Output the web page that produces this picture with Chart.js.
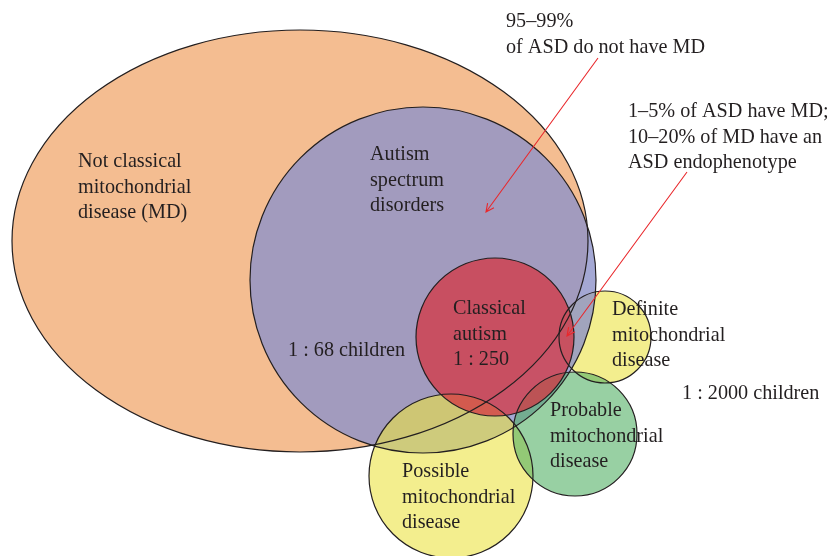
<!DOCTYPE html>
<html>
<head>
<meta charset="utf-8">
<script src="https://cdn.jsdelivr.net/npm/chart.js@4"></script>
<style>
  html, body { margin: 0; padding: 0; background: #fff; }
  #venn { display: block; }
</style>
</head>
<body>
<canvas id="venn" width="833" height="556"></canvas>
<script>
// sets of the Euler diagram, in plot units (x 0..833, y 0..556 downwards)
var setNames = ['Not classical mitochondrial disease (MD)', 'Autism spectrum disorders', 'Classical autism',
                'Possible mitochondrial disease', 'Probable mitochondrial disease', 'Definite mitochondrial disease'];
var centerX = [300, 423, 495, 451, 575, 605];
var centerY = [241, 280, 337, 476, 434, 337];
var radiusX = [288, 173, 79, 82, 62, 46];
var radiusY = [211, 173, 79, 82, 62, 46];

// text labels
var labelLines = [
    ['Not classical', 'mitochondrial', 'disease (MD)'],
    ['Autism', 'spectrum', 'disorders'],
    ['Classical', 'autism', '1 : 250'],
    ['Possible', 'mitochondrial', 'disease'],
    ['Probable', 'mitochondrial', 'disease'],
    ['Definite', 'mitochondrial', 'disease'],
    ['1 : 68 children'],
    ['1 : 2000 children'],
    ['95\u201399%', 'of ASD do not have MD'],
    ['1\u20135% of ASD have MD;', '10\u201320% of MD have an', 'ASD endophenotype']
];
var labelX = [78, 370, 453, 402, 550, 612, 288, 682, 506, 628];
var labelY = [167, 160, 314, 477, 416, 315, 356, 399, 27, 117];

// callout arrows: start -> tip
var arrowFromX = [598, 687];
var arrowFromY = [58, 172];
var arrowToX = [486, 567];
var arrowToY = [212, 336];

var fills = ['#f4bd91', 'rgba(141,146,201,0.8)', 'rgba(212,53,65,0.75)',
             'rgba(235,227,67,0.6)', 'rgba(83,177,102,0.6)', 'rgba(235,227,67,0.6)'];
var drawOrder = [0, 5, 1, 3, 4, 2];

var vennPlugin = {
    id: 'venn',
    beforeDatasetsDraw: function (chart) {
        var ctx = chart.ctx, xs = chart.scales.x, ys = chart.scales.y;
        function shape(i) {
            var px = xs.getPixelForValue(centerX[i]);
            var py = ys.getPixelForValue(centerY[i]);
            var rx = Math.abs(xs.getPixelForValue(centerX[i] + radiusX[i]) - px);
            var ry = Math.abs(ys.getPixelForValue(centerY[i] + radiusY[i]) - py);
            ctx.beginPath();
            ctx.ellipse(px, py, rx, ry, 0, 0, Math.PI * 2);
        }
        ctx.save();
        drawOrder.forEach(function (i) {
            shape(i);
            ctx.fillStyle = fills[i];
            ctx.fill();
        });
        ctx.strokeStyle = '#231f20';
        ctx.lineWidth = 1.2;
        drawOrder.forEach(function (i) {
            shape(i);
            ctx.stroke();
        });
        ctx.restore();
    },
    afterDatasetsDraw: function (chart) {
        var ctx = chart.ctx, xs = chart.scales.x, ys = chart.scales.y;
        ctx.save();
        ctx.font = '20.2px "Liberation Serif", "DejaVu Serif", serif';
        ctx.fillStyle = '#231f20';
        ctx.textAlign = 'left';
        ctx.textBaseline = 'alphabetic';
        labelLines.forEach(function (lines, i) {
            lines.forEach(function (t, j) {
                ctx.fillText(t, xs.getPixelForValue(labelX[i]), ys.getPixelForValue(labelY[i] + j * 25.7));
            });
        });

        ctx.strokeStyle = '#e9282c';
        ctx.lineWidth = 1.1;
        for (var k = 0; k < arrowFromX.length; k++) {
            var x0 = xs.getPixelForValue(arrowFromX[k]), y0 = ys.getPixelForValue(arrowFromY[k]);
            var x1 = xs.getPixelForValue(arrowToX[k]), y1 = ys.getPixelForValue(arrowToY[k]);
            var a = Math.atan2(y1 - y0, x1 - x0), h = 9, w = 0.45;
            ctx.beginPath();
            ctx.moveTo(x0, y0);
            ctx.lineTo(x1, y1);
            ctx.moveTo(x1 - h * Math.cos(a - w), y1 - h * Math.sin(a - w));
            ctx.lineTo(x1, y1);
            ctx.lineTo(x1 - h * Math.cos(a + w), y1 - h * Math.sin(a + w));
            ctx.stroke();
        }
        ctx.restore();
    }
};

var datasets = setNames.map(function (name, i) {
    return {
        label: name,
        data: [{x: centerX[i], y: centerY[i]}],
        pointRadius: 0,
        pointHoverRadius: 0
    };
});

new Chart(document.getElementById('venn'), {
    type: 'scatter',
    data: {datasets: datasets},
    options: {
        responsive: false,
        devicePixelRatio: 1,
        animation: false,
        layout: {padding: 0},
        plugins: {legend: {display: false}, tooltip: {enabled: false}},
        scales: {
            x: {type: 'linear', min: 0, max: 833, display: false},
            y: {type: 'linear', min: 0, max: 556, reverse: true, display: false}
        }
    },
    plugins: [vennPlugin]
});
</script>
</body>
</html>
